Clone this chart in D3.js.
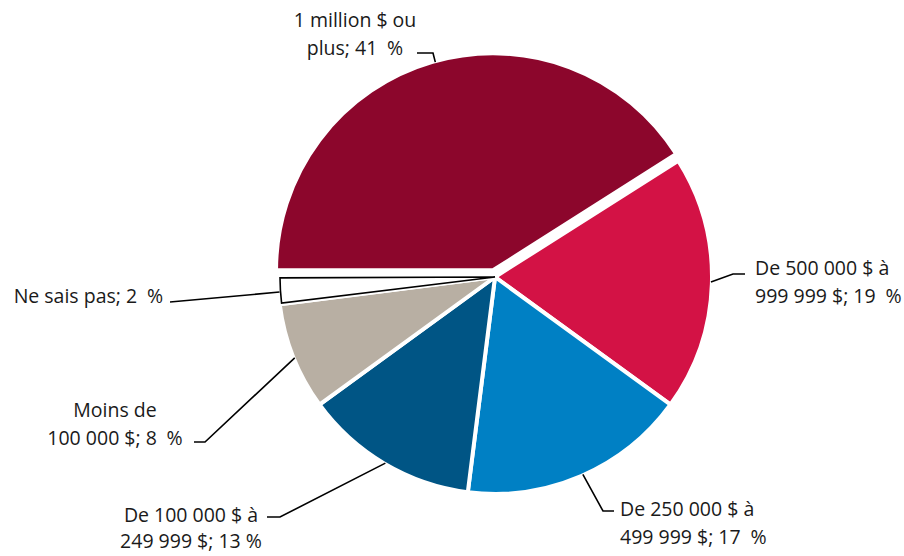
<!DOCTYPE html>
<html>
<head>
<meta charset="utf-8">
<script src="https://cdn.jsdelivr.net/npm/d3@7"></script>
<style>
  body { margin: 0; background: #fff; }
  text { font-family: "Open Sans", "Noto Sans", sans-serif; font-size: 19.5px; fill: #1a1a1a; }
</style>
</head>
<body>
<div id="wrapper"></div>
<script>
// categories (in pie order, clockwise from 9 o'clock)
const categories = ["1 million $ ou plus", "De 500 000 $ à 999 999 $", "De 250 000 $ à 499 999 $",
                    "De 100 000 $ à 249 999 $", "Moins de 100 000 $", "Ne sais pas"];
const values = [41, 19, 17, 13, 8, 2];
const labelLines = [
    ["1 million $ ou", "plus; 41\u2002%"],
    ["De 500 000 $ à", "999 999 $; 19\u2002%"],
    ["De 250 000 $ à", "499 999 $; 17\u2002%"],
    ["De 100 000 $ à", "249 999 $; 13 %"],
    ["Moins de", "100 000 $; 8\u2002%"],
    ["Ne sais pas; 2\u2002%"]
];
const colors = ["#8c062c", "#d31245", "#0080c4", "#005585", "#b8afa3", "#ffffff"];

function buildPlot() {
    const dimension = { width: 904, height: 556 };
    const cx = 495, cy = 277, radius = 217;

    const svg = d3.select("#wrapper").append("svg")
        .attr("width", dimension.width)
        .attr("height", dimension.height);

    const pie = d3.pie()
        .sort(null)
        .value(d => d)
        .startAngle(-Math.PI / 2)
        .endAngle(3 * Math.PI / 2);
    const arcs = pie(values);

    const arc = d3.arc().innerRadius(0).outerRadius(radius);

    const explode = (d, i) => {
        if (i !== 0) return [0, 0];
        const mid = (d.startAngle + d.endAngle) / 2;
        return [7 * Math.sin(mid), -7 * Math.cos(mid)];
    };

    const bounded = svg.append("g").attr("transform", `translate(${cx},${cy})`);

    bounded.selectAll("path.slice")
        .data(arcs)
        .join("path")
        .attr("class", "slice")
        .attr("d", arc)
        .attr("transform", (d, i) => `translate(${explode(d, i)})`)
        .attr("fill", (d, i) => colors[i])
        .attr("stroke", "#fff")
        .attr("stroke-width", 4)
        .attr("stroke-linejoin", "round");

    // "Ne sais pas" slice gets a black outline
    const last = arcs[arcs.length - 1];
    bounded.append("path")
        .attr("d", d3.arc().innerRadius(0).outerRadius(radius - 2)
            .startAngle(last.startAngle + 0.004).endAngle(last.endAngle - 0.004)())
        .attr("fill", "#fff")
        .attr("stroke", "#000")
        .attr("stroke-width", 1.6)
        .attr("stroke-linejoin", "miter");

    // label layout: anchor angle on the pie (deg), elbow, label position, line gap
    const layout = [
        { ang: 344.5, elbow: [-62, -224], end: [-78, -224], x: -140, y: -250, anchor: "middle", gap: 28 },
        { ang: 91.3,  elbow: [238, -3],  end: [250, -3],  x: 260, y: -2,   anchor: "start", gap: 28 },
        { ang: 156,   elbow: [108, 234], end: [119, 234], x: 125, y: 239,  anchor: "start", gap: 28 },
        { ang: 210.5, elbow: [-215, 240], end: [-228, 240], x: -304, y: 245, anchor: "middle", gap: 26 },
        { ang: 248,   elbow: [-290, 165], end: [-301, 165], x: -380, y: 140, anchor: "middle", gap: 28 },
        { ang: 266,   elbow: [-325, 25], end: [-325, 25], x: -332, y: 26,  anchor: "end", gap: 28 }
    ];

    const line = d3.line();
    arcs.forEach((d, i) => {
        const L = layout[i];
        const a = L.ang * Math.PI / 180;
        const off = explode(d, i);
        const r = radius - 1;
        const p0 = [off[0] + r * Math.sin(a), off[1] - r * Math.cos(a)];
        bounded.append("path")
            .attr("d", line([p0, L.elbow, L.end]))
            .attr("fill", "none")
            .attr("stroke", "#000")
            .attr("stroke-width", 1.6);

        const t = bounded.append("text")
            .attr("text-anchor", L.anchor)
            .attr("x", L.x)
            .attr("y", L.y);
        labelLines[i].forEach((s, j) => {
            t.append("tspan")
                .attr("x", L.x)
                .attr("dy", j === 0 ? 0 : L.gap)
                .text(s);
        });
    });
}

buildPlot();
</script>
</body>
</html>
